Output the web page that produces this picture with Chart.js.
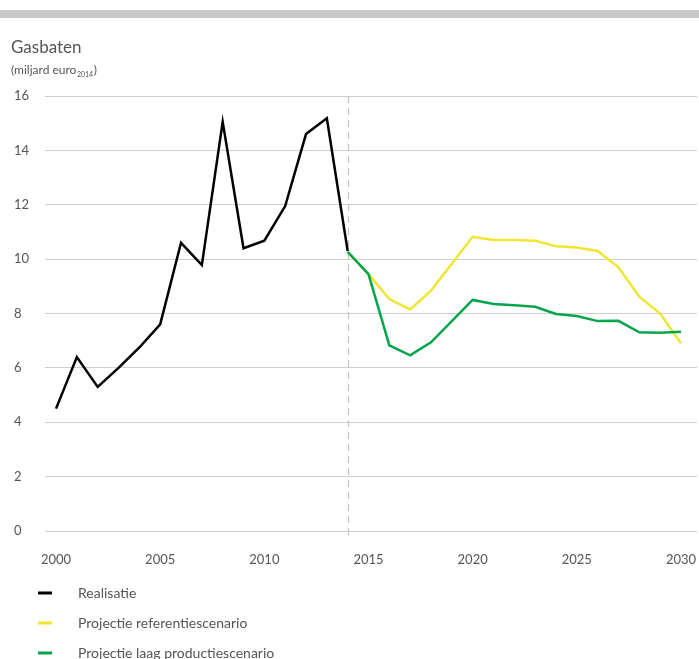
<!DOCTYPE html>
<html>
<head>
<meta charset="utf-8">
<script src="https://cdn.jsdelivr.net/npm/chart.js@4"></script>
<style>
  html, body { margin: 0; padding: 0; background: #fff; }
  #wrap { width: 699px; height: 659px; }
</style>
</head>
<body>
<div id="wrap"><canvas id="gasChart" width="699" height="659"></canvas></div>
<script>
// data
const realYears = [2000, 2001, 2002, 2003, 2004, 2005, 2006, 2007, 2008, 2009, 2010, 2011, 2012, 2013, 2014];
const realisatie = [4.5, 6.4, 5.3, 6.0, 6.75, 7.6, 10.6, 9.78, 15.05, 10.4, 10.68, 11.95, 14.6, 15.18, 10.3];

const projYears = [2014, 2015, 2016, 2017, 2018, 2019, 2020, 2021, 2022, 2023, 2024, 2025, 2026, 2027, 2028, 2029, 2030];
const referentie = [10.27, 9.45, 8.53, 8.15, 8.84, 9.83, 10.82, 10.7, 10.7, 10.68, 10.47, 10.43, 10.3, 9.7, 8.62, 8.0, 6.9];
const laagProductie = [10.27, 9.45, 6.83, 6.46, 6.94, 7.72, 8.5, 8.35, 8.3, 8.25, 7.98, 7.91, 7.72, 7.73, 7.31, 7.29, 7.33];

const yTicks = [0, 2, 4, 6, 8, 10, 12, 14, 16];
const labels = ['Realisatie', 'Projectie referentiescenario', 'Projectie laag productiescenario'];

const txt = '#555';
const font = 'Lato, "Open Sans", sans-serif';

function pts(xs, ys) {
  return xs.map((x, i) => ({ x: x, y: ys[i] }));
}

const decor = {
  id: 'decor',
  beforeDatasetsDraw(chart) {
    const { ctx, chartArea, scales } = chart;
    const x = Math.round(scales.x.getPixelForValue(2014)) + 0.5;
    ctx.save();
    ctx.strokeStyle = '#c4c4c4';
    ctx.lineWidth = 1.2;
    ctx.setLineDash([7, 5]);
    ctx.beginPath();
    ctx.moveTo(x, chartArea.top);
    ctx.lineTo(x, chartArea.bottom + 6);
    ctx.stroke();
    ctx.restore();
  },
  afterDraw(chart) {
    const { ctx } = chart;
    ctx.save();
    // grey band at the top
    ctx.fillStyle = '#c8c8c8';
    ctx.fillRect(0, 10, 699, 8);

    ctx.fillStyle = txt;
    ctx.textBaseline = 'alphabetic';
    ctx.font = '17px ' + font;
    ctx.fillText('Gasbaten', 11, 53);
    ctx.font = '12px ' + font;
    const s = '(miljard euro';
    ctx.fillText(s, 11, 74);
    let w = ctx.measureText(s).width;
    ctx.font = '7px ' + font;
    ctx.fillText('2014', 11 + w + 0.5, 77);
    w += ctx.measureText('2014').width + 1;
    ctx.font = '12px ' + font;
    ctx.fillText(')', 11 + w, 74);

    // legend
    ctx.font = '14px ' + font;
    ctx.textBaseline = 'middle';
    chart.data.datasets.forEach((ds, i) => {
      const y = 593 + i * 30;
      ctx.fillStyle = ds.borderColor;
      ctx.fillRect(38, y - 1.5, 14, 3);
      ctx.fillStyle = txt;
      ctx.fillText(ds.label, 78, y);
    });
    ctx.restore();
  }
};

new Chart(document.getElementById('gasChart').getContext('2d'), {
  type: 'line',
  data: {
    datasets: [
      {
        label: labels[0],
        data: pts(realYears, realisatie),
        borderColor: '#000000',
        borderWidth: 2.5,
        order: 1,
      },
      {
        label: labels[1],
        data: pts(projYears, referentie),
        borderColor: '#f2e531',
        borderWidth: 2.5,
        order: 2,
      },
      {
        label: labels[2],
        data: pts(projYears, laagProductie),
        borderColor: '#04a44c',
        borderWidth: 2.5,
        order: 0,
      },
    ],
  },
  options: {
    responsive: false,
    animation: false,
    devicePixelRatio: 1,
    elements: { point: { radius: 0 }, line: { tension: 0, borderJoinStyle: 'miter' } },
    layout: { padding: { top: 96, left: 14, right: 2, bottom: 94 } },
    plugins: { legend: { display: false }, tooltip: { enabled: false } },
    scales: {
      x: {
        type: 'linear',
        min: 1999.47,
        max: 2030.77,
        border: { display: false },
        grid: { display: false, drawTicks: false },
        ticks: {
          stepSize: 5,
          includeBounds: false,
          padding: 21,
          color: txt,
          font: { family: font, size: 13 },
          callback: (v) => String(v),
        },
        afterFit: (s) => { s.height = 34; s.paddingRight = 0; s.paddingLeft = 0; },
      },
      y: {
        min: 0,
        max: 16,
        border: { display: false },
        grid: { color: '#cfcfcf', lineWidth: 1, drawTicks: false },
        afterBuildTicks: (s) => { s.ticks = yTicks.map((v) => ({ value: v })); },
        ticks: {
          crossAlign: 'far',
          padding: 14,
          color: txt,
          font: { family: font, size: 13 },
        },
        afterFit: (s) => { s.width = 31; s.paddingTop = 0; s.paddingBottom = 0; },
      },
    },
  },
  plugins: [decor],
});
</script>
</body>
</html>
